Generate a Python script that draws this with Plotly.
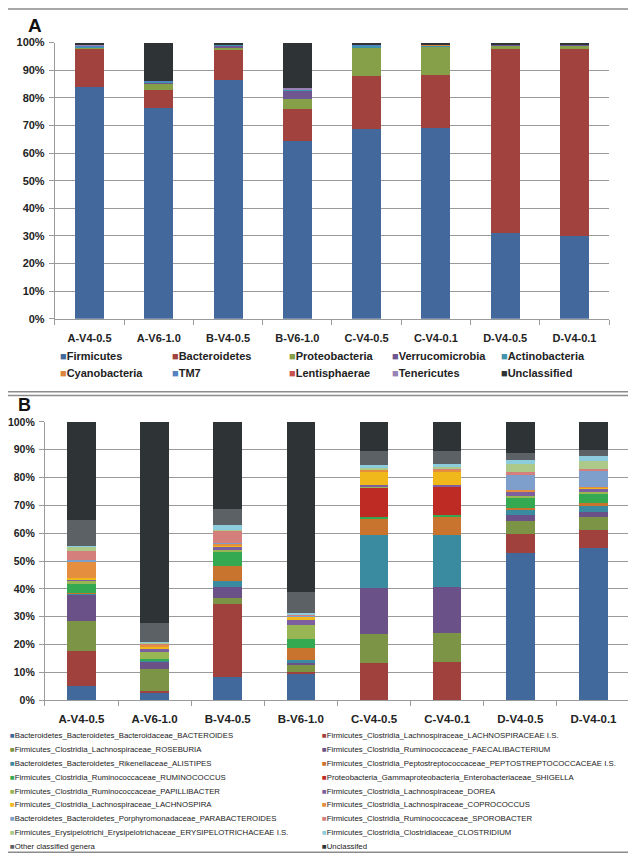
import plotly.graph_objects as go

# ---------------- data ----------------
samples = ["A-V4-0.5", "A-V6-1.0", "B-V4-0.5", "B-V6-1.0",
           "C-V4-0.5", "C-V4-0.1", "D-V4-0.5", "D-V4-0.1"]

# Panel A : phyla (% of reads)
phyla = ["Firmicutes", "Bacteroidetes", "Proteobacteria", "Verrucomicrobia", "Actinobacteria",
         "Cyanobacteria", "TM7", "Lentisphaerae", "Tenericutes", "Unclassified"]
firmicutes      = [84.0, 76.3, 86.3, 64.3, 68.6, 68.9, 31.1, 29.9]
bacteroidetes   = [13.5, 6.7, 11.2, 11.8, 19.3, 19.2, 66.4, 67.6]
proteobacteria  = [0.8, 2.4, 0.7, 3.6, 10.4, 10.5, 1.7, 1.7]
verrucomicrobia = [0.2, 0.3, 1.0, 3.2, 0.1, 0.1, 0.1, 0.1]
actinobacteria  = [0.2, 0.2, 0.1, 0.3, 0.6, 0.5, 0.1, 0.1]
cyanobacteria   = [0.0, 0.0, 0.0, 0.0, 0.1, 0.1, 0.0, 0.0]
tm7             = [0.4, 0.1, 0.0, 0.0, 0.4, 0.3, 0.1, 0.1]
lentisphaerae   = [0.0, 0.0, 0.0, 0.0, 0.0, 0.0, 0.1, 0.1]
tenericutes     = [0.1, 0.0, 0.3, 0.3, 0.0, 0.0, 0.0, 0.0]
unclassified_a  = [0.8, 14.0, 0.4, 16.5, 0.5, 0.4, 0.4, 0.4]
phyla_values = [firmicutes, bacteroidetes, proteobacteria, verrucomicrobia, actinobacteria,
                cyanobacteria, tm7, lentisphaerae, tenericutes, unclassified_a]
phyla_colors = ["#43699C", "#A2423F", "#86A04A", "#6E5690", "#3F94AE",
                "#DB843D", "#5283C0", "#C9524F", "#9983B5", "#2E3335"]

# Panel B : genera (% of reads)
genera = ["Bacteroidetes_Bacteroidetes_Bacteroidaceae_BACTEROIDES",
          "Firmicutes_Clostridia_Lachnospiraceae_LACHNOSPIRACEAE I.S.",
          "Firmicutes_Clostridia_Lachnospiraceae_ROSEBURIA",
          "Firmicutes_Clostridia_Ruminococcaceae_FAECALIBACTERIUM",
          "Bacteroidetes_Bacteroidetes_Rikenellaceae_ALISTIPES",
          "Firmicutes_Clostridia_Peptostreptococcaceae_PEPTOSTREPTOCOCCACEAE I.S.",
          "Firmicutes_Clostridia_Ruminococcaceae_RUMINOCOCCUS",
          "Proteobacteria_Gammaproteobacteria_Enterobacteriaceae_SHIGELLA",
          "Firmicutes_Clostridia_Ruminococcaceae_PAPILLIBACTER",
          "Firmicutes_Clostridia_Lachnospiraceae_DOREA",
          "Firmicutes_Clostridia_Lachnospiraceae_LACHNOSPIRA",
          "Firmicutes_Clostridia_Lachnospiraceae_COPROCOCCUS",
          "Bacteroidetes_Bacteroidetes_Porphyromonadaceae_PARABACTEROIDES",
          "Firmicutes_Clostridia_Ruminococcaceae_SPOROBACTER",
          "Firmicutes_Erysipelotrichi_Erysipelotrichaceae_ERYSIPELOTRICHACEAE I.S.",
          "Firmicutes_Clostridia_Clostridiaceae_CLOSTRIDIUM",
          "Other classified genera",
          "Unclassifed"]
bacteroides     = [5.1, 2.6, 8.5, 9.8, 0.1, 0.1, 52.9, 54.7]
lachno_is       = [12.7, 0.8, 26.1, 0.3, 13.3, 13.7, 6.9, 6.6]
roseburia       = [10.6, 8.0, 2.0, 2.9, 10.3, 10.2, 4.5, 4.6]
faecalibacter   = [9.5, 2.5, 4.2, 0.6, 16.5, 16.6, 2.2, 1.8]
alistipes       = [0.6, 0.3, 2.0, 0.7, 19.3, 18.9, 2.1, 2.1]
peptostrep_is   = [0.2, 0.1, 5.5, 4.4, 5.8, 6.4, 0.6, 0.9]
ruminococcus    = [3.3, 0.6, 5.2, 3.4, 0.7, 0.6, 3.6, 3.5]
shigella        = [0.0, 0.0, 0.0, 0.0, 10.6, 10.2, 0.2, 0.2]
papillibacter   = [0.7, 2.5, 0.4, 4.8, 0.2, 0.2, 0.4, 0.3]
dorea           = [0.8, 1.2, 1.2, 2.1, 0.6, 0.6, 1.5, 1.5]
lachnospira     = [0.5, 0.8, 0.6, 1.0, 4.8, 4.7, 0.3, 0.1]
coprococcus     = [5.9, 0.6, 0.6, 0.3, 0.6, 0.6, 0.5, 0.2]
parabacteroides = [0.4, 0.2, 0.3, 0.3, 0.1, 0.1, 5.4, 6.0]
sporobacter     = [3.2, 0.3, 4.4, 0.2, 0.1, 0.1, 0.9, 0.7]
erysipelo_is    = [1.8, 0.3, 0.3, 0.2, 0.6, 0.8, 2.9, 2.8]
clostridium     = [0.2, 0.2, 1.7, 0.4, 1.0, 1.1, 1.5, 1.6]
other_genera    = [9.2, 6.6, 5.9, 7.5, 5.0, 4.8, 2.4, 2.3]
unclassified_b  = [35.3, 72.4, 31.1, 61.1, 10.4, 10.3, 11.2, 10.1]
genera_values = [bacteroides, lachno_is, roseburia, faecalibacter, alistipes, peptostrep_is,
                 ruminococcus, shigella, papillibacter, dorea, lachnospira, coprococcus,
                 parabacteroides, sporobacter, erysipelo_is, clostridium, other_genera,
                 unclassified_b]
genera_colors = ["#41699B", "#A0413E", "#7C9446", "#6A5288", "#3A8AA0", "#C8742F",
                 "#35A852", "#BE2B25", "#98B654", "#7D5E9E", "#F0B81A", "#E48E3E",
                 "#7E9ECB", "#D47F7C", "#ADC98A", "#8DCCDC", "#5B6164", "#2E3335"]

y_ticks = [0, 10, 20, 30, 40, 50, 60, 70, 80, 90, 100]

# ---------------- figure ----------------
W, H = 636, 861
OFF = 8  # the page body margin shifts the figure by this many pixels
FONT = "Liberation Sans, Arial, sans-serif"
GRID = "#9a9a9a"

fig = go.Figure()

for name, vals, col in zip(phyla, phyla_values, phyla_colors):
    fig.add_trace(go.Bar(x=samples, y=vals, name=name, marker=dict(color=col, line=dict(width=0)),
                         width=0.42, xaxis="x", yaxis="y", showlegend=False))

for name, vals, col in zip(genera, genera_values, genera_colors):
    fig.add_trace(go.Bar(x=samples, y=vals, name=name, marker=dict(color=col, line=dict(width=0)),
                         width=0.39, xaxis="x2", yaxis="y2", showlegend=False))


def px_x(v):
    return (v - OFF) / W


def px_y(v):
    return 1 - (v - OFF) / H


axis_common = dict(showline=True, linecolor=GRID, linewidth=1, ticks="outside",
                   tickcolor=GRID, ticklen=5, zeroline=False)

fig.update_layout(
    width=W, height=H, margin=dict(l=0, r=0, t=0, b=0),
    paper_bgcolor="white", plot_bgcolor="white",
    barmode="stack", font=dict(family=FONT, color="#222"),
    xaxis=dict(domain=[px_x(53), px_x(609)], anchor="y", type="category",
               tickson="boundaries", showgrid=False,
               tickfont=dict(size=11, family=FONT, color="#222", weight="bold"),
               ticklabelstandoff=9, **axis_common),
    yaxis=dict(domain=[px_y(317), px_y(37)], anchor="x", range=[0, 100],
               tickvals=y_ticks, ticktext=[f"{t}%" for t in y_ticks],
               showgrid=True, gridcolor=GRID, gridwidth=1,
               tickfont=dict(size=11, family=FONT, color="#222", weight="bold"),
               ticklabelstandoff=2, **axis_common),
    xaxis2=dict(domain=[px_x(43), px_x(630)], anchor="y2", type="category",
                tickson="boundaries", showgrid=False,
                tickfont=dict(size=11.5, family=FONT, color="#222", weight="bold"),
                ticklabelstandoff=8, **axis_common),
    yaxis2=dict(domain=[px_y(704), px_y(421.7)], anchor="x2", range=[0, 100],
                tickvals=y_ticks, ticktext=[f"{t}%" for t in y_ticks],
                showgrid=True, gridcolor=GRID, gridwidth=1,
                tickfont=dict(size=10.5, family=FONT, color="#222", weight="bold"),
                ticklabelstandoff=2, **axis_common),
    showlegend=False,
)

# panel frames
fig.add_shape(type="rect", xref="paper", yref="paper",
              x0=px_x(3), x1=px_x(631), y0=px_y(391), y1=px_y(3),
              line=dict(color="#8c8c8c", width=1.5))
fig.add_shape(type="rect", xref="paper", yref="paper",
              x0=px_x(3), x1=px_x(631), y0=px_y(858), y1=px_y(395),
              line=dict(color="#8c8c8c", width=1.5))

annotations = []
# panel letters
annotations.append(dict(text="<b>A</b>", x=px_x(24), y=px_y(20), xref="paper", yref="paper",
                        xanchor="left", yanchor="middle", showarrow=False,
                        font=dict(size=19, family=FONT, color="#111")))
annotations.append(dict(text="<b>B</b>", x=px_x(14), y=px_y(405), xref="paper", yref="paper",
                        xanchor="left", yanchor="middle", showarrow=False,
                        font=dict(size=18, family=FONT, color="#111")))

# legend A (5 columns x 2 rows, row-wise order as in the original)
colx_a = [56, 169, 286, 389, 499]
rowy_a = [355, 372]
for i, (name, col) in enumerate(zip(phyla, phyla_colors)):
    r, c = divmod(i, 5)
    annotations.append(dict(
        text=f"<span style='color:{col}'>■</span><b>{name}</b>",
        x=px_x(colx_a[c]), y=px_y(rowy_a[r]), xref="paper", yref="paper",
        xanchor="left", yanchor="middle", showarrow=False,
        font=dict(size=11, family=FONT, color="#222")))

# legend B (2 columns, row-wise order)
colx_b = [6, 319]
for i, (name, col) in enumerate(zip(genera, genera_colors)):
    r, c = divmod(i, 2)
    annotations.append(dict(
        text=f"<span style='color:{col}'>■</span>{name}",
        x=px_x(colx_b[c]), y=px_y(740 + 14 * r), xref="paper", yref="paper",
        xanchor="left", yanchor="middle", showarrow=False,
        font=dict(size=7.8, family=FONT, color="#222")))

fig.update_layout(annotations=annotations)

fig.write_html("out.html")
